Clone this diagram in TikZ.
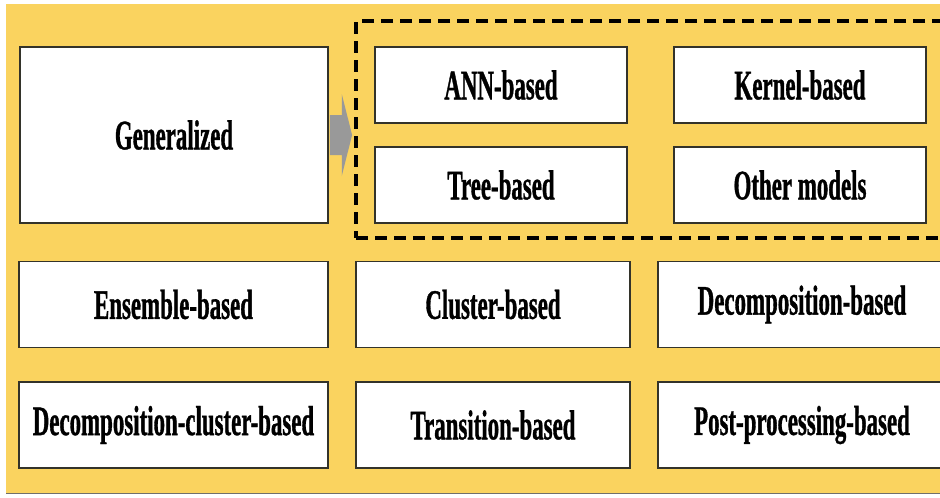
\documentclass[tikz,border=0pt]{standalone}
\usepackage{fontspec}
\usepackage{tikz}
\usetikzlibrary{fit}
\newfontfamily\catfont[FakeStretch=0.545,FakeBold=0.8]{Liberation Serif}
\definecolor{bgyellow}{HTML}{FAD35F}
\definecolor{boxline}{HTML}{33332A}
\definecolor{arrowgray}{HTML}{999999}
\tikzset{
  catbox/.style={draw=boxline,fill=white,line width=1.5pt,inner sep=0pt,
    font=\catfont\bfseries\fontsize{42}{44}\selectfont},
  widebox/.style={catbox,minimum width=309pt,minimum height=86pt},
  midbox/.style={catbox,minimum width=274pt,minimum height=86pt},
  subbox/.style={catbox,minimum width=252pt,minimum height=76pt},
}

\begin{document}
\begin{tikzpicture}[x=1pt,y=-1pt]
        \useasboundingbox (0,0) rectangle (940,498);
        \clip (0,0) rectangle (940,498);
        % background
        \fill[bgyellow] (6,4) rectangle (945,493);
        \draw[boxline!70,line width=1pt] (6,493) -- (945,493);
        % generalized models
        \node[catbox,minimum width=308pt,minimum height=176pt] (gen) at (174,135) {Generalized};
        \node[subbox] (ann) at (501,85) {ANN-based};
        \node[subbox] (kernel) at (800,85) {Kernel-based};
        \node[subbox] (tree) at (501,185) {Tree-based};
        \node[subbox] (other) at (800,185) {Other models};
        \node[draw=black,line width=3.8pt,dash pattern=on 12pt off 7pt,inner sep=0pt,
              fit={(356,21) (950,238)}] (grp) {};
        % arrow
        \fill[arrowgray] ([shift={(1,-20)}]gen.east) -- ++(12,0) -- ++(0,-21)
              -- ([xshift=-2pt]gen.east -| grp.west)
              -- ([shift={(13,41)}]gen.east) -- ++(0,-21) -- ([shift={(1,20)}]gen.east) -- cycle;
        % other categories
        \node[widebox] (ens) at (173.5,304.5) {Ensemble-based};
        \node[midbox] (clus) at (493,304.5) {Cluster-based};
        \node[widebox,minimum width=288pt] (dec) at (802,304.5) {Decomposition-based};
        \node[widebox] (deccl) at (173.5,425) {Decomposition-cluster-based};
        \node[midbox] (trans) at (493,425) {Transition-based};
        \node[widebox,minimum width=288pt] (post) at (802,425) {Post-processing-based};
    \end{tikzpicture}
\end{document}
